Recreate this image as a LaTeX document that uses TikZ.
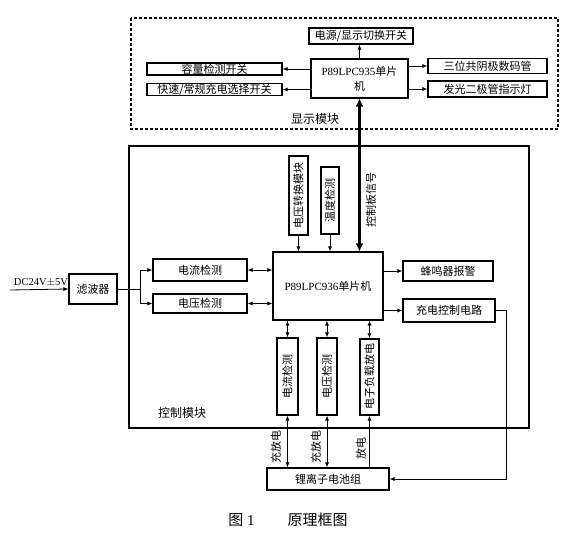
\documentclass[tikz,border=0pt]{standalone}
\usepackage{fontspec}
\setmainfont{Liberation Serif}
\newfontfamily\cjk{Noto Sans CJK SC}
\usetikzlibrary{arrows.meta}
\tikzset{
  box/.style={draw, line width=1.1pt, inner sep=0pt, align=center, font=\cjk\fontsize{11}{12}\selectfont},
  lbl/.style={inner sep=0pt, font=\cjk\fontsize{11}{12}\selectfont},
  arr/.style={line width=0.8pt, -{Latex[length=5pt,width=4pt]}},
  darr/.style={line width=0.8pt, {Latex[length=5pt,width=4pt]}-{Latex[length=5pt,width=4pt]}},
  thickarr/.style={line width=2.6pt, {Latex[length=8pt,width=8pt]}-{Latex[length=8pt,width=8pt]}},
  plain/.style={line width=0.8pt}
}
\begin{document}
\begin{tikzpicture}[x=1pt,y=-1pt]
\useasboundingbox (0,0) rectangle (566,537);
\fill[white] (0,0) rectangle (566,537);
% frames
\draw[line width=1.3pt, densely dashed] (131,18) rectangle (558,129);
\draw[line width=1.1pt] (129,146) rectangle (529,428);
\node[lbl, font=\cjk\fontsize{12}{13}\selectfont] (displ) at (315,119) {显示模块};
\node[lbl, font=\cjk\fontsize{12}{13}\selectfont] (ctrll) at (182,413) {控制模块};
% display module
\node[box, minimum width=104, minimum height=16] (pwr) at (361,36) {电源/显示切换开关};
\node[box, minimum width=97, minimum height=39, font=\fontsize{11}{15}\selectfont] (m935) at (359.5,78.5) {P89LPC935{\cjk 单片}\\{\cjk 机}};
\node[box, minimum width=135, minimum height=12] (cap) at (214.5,69) {容量检测开关};
\node[box, minimum width=135, minimum height=12] (fast) at (214.5,89.5) {快速/常规充电选择开关};
\node[box, minimum width=119, minimum height=15] (seg) at (487.5,66) {三位共阴极数码管};
\node[box, minimum width=119, minimum height=16] (led) at (487.5,89) {发光二极管指示灯};
\draw[arr] (m935.north) -- (m935.north |- pwr.south);
\draw[arr] (m935.west |- cap.east) -- (cap.east);
\draw[arr] (m935.west |- fast.east) -- (fast.east);
\draw[arr] (m935.east |- seg.west) -- (seg.west);
\draw[arr] (m935.east |- led.west) -- (led.west);
% control module
\node[inner sep=0pt, font=\fontsize{10.5}{12}\selectfont] (dc) at (41,282) {DC24V$\pm$5V};
\coordinate (dcin) at (10,290);
\node[box, minimum width=48, minimum height=30] (filt) at (93,289) {滤波器};
\coordinate (br) at (140,289);
\node[box, minimum width=94, minimum height=22] (cur1) at (200,270) {电流检测};
\node[box, minimum width=94, minimum height=19] (vol1) at (200,303.5) {电压检测};
\node[box, minimum width=110, minimum height=68, font=\fontsize{11}{12}\selectfont] (m936) at (328,286) {P89LPC936{\cjk 单片机}};
\node[box, minimum width=19, minimum height=79] (vconv) at (298.5,195.5) {\rotatebox{90}{电压转换模块}};
\node[box, minimum width=18, minimum height=67] (temp) at (330,200.5) {\rotatebox{90}{温度检测}};
\node[lbl] (sig) at (371,200) {\rotatebox{90}{控制板信号}};
\node[box, minimum width=90, minimum height=20] (buzz) at (448,271) {蜂鸣器报警};
\node[box, minimum width=92, minimum height=23] (chg) at (449,310.5) {充电控制电路};
\node[box, minimum width=21, minimum height=77] (icur) at (287.5,376.5) {\rotatebox{90}{电流检测}};
\node[box, minimum width=20, minimum height=77] (ivol) at (327,376.5) {\rotatebox{90}{电压检测}};
\node[box, minimum width=19, minimum height=76] (eload) at (369.5,377) {\rotatebox{90}{电子负载放电}};
\node[box, minimum width=122, minimum height=22] (batt) at (328,479) {锂离子电池组};
\node[lbl] (l1) at (276,447) {\rotatebox{90}{充放电}};
\node[lbl] (l2) at (316,447) {\rotatebox{90}{充放电}};
\node[lbl] (l3) at (361,449) {\rotatebox{90}{放电}};
\node[inner sep=0pt, font=\fontsize{15}{17}\selectfont] (cap1) at (288,520) {{\cjk 图}\ 1\hspace{2.2em}{\cjk 原理框图}};
% connectors
\draw[thickarr] (m935.south) -- (m935.south |- m936.north);
\draw[arr] (dcin) -- (filt.west);
\draw[plain] (filt.east) -- (br);
\draw[arr] (br) |- (cur1.west);
\draw[arr] (br) |- (vol1.west);
\draw[darr] (cur1.east) -- (m936.west |- cur1.east);
\draw[darr] (vol1.east) -- (m936.west |- vol1.east);
\draw[arr] (vconv.south) -- (vconv.south |- m936.north);
\draw[arr] (temp.south) -- (temp.south |- m936.north);
\draw[arr] (m936.east |- buzz.west) -- (buzz.west);
\draw[arr] (m936.east |- chg.west) -- (chg.west);
\draw[arr] (chg.east) -- ++(11,0) |- (batt.east);
\draw[darr] (icur.north |- m936.south) -- (icur.north);
\draw[darr] (ivol.north |- m936.south) -- (ivol.north);
\draw[darr] (eload.north |- m936.south) -- (eload.north);
\draw[darr] (icur.south) -- (icur.south |- batt.north);
\draw[darr] (ivol.south) -- (ivol.south |- batt.north);
\draw[arr] (eload.south |- batt.north) -- (eload.south);
\end{tikzpicture}
\end{document}
